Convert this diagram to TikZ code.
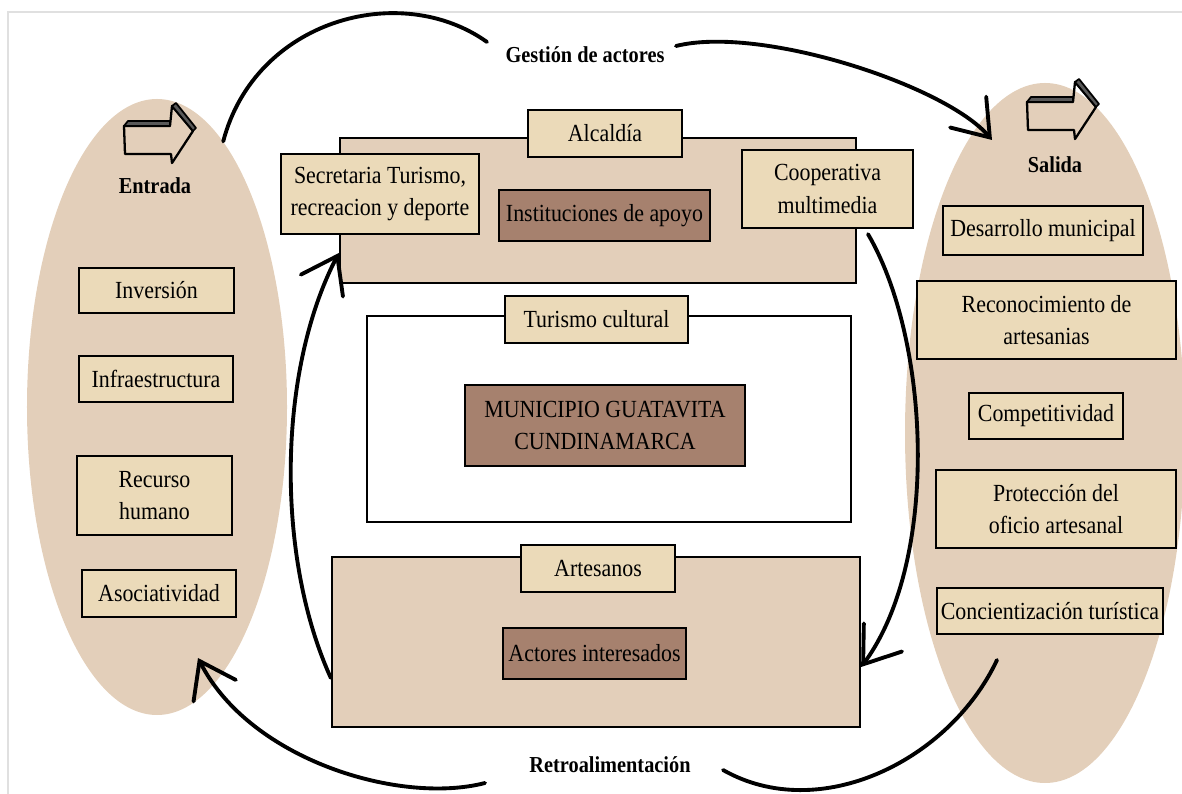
\documentclass[tikz,border=0pt]{standalone}
\usepackage{fontspec}
\setmainfont{Liberation Serif}[FakeStretch=0.89]
\usetikzlibrary{shapes.geometric,arrows.meta}

\definecolor{fondo}{HTML}{E3CFBA}
\definecolor{rotulo}{HTML}{EBDAB9}
\definecolor{oscuro}{HTML}{A6816E}

% flecha dibujada a mano (entrada / salida)
\newcommand{\flechaicono}{%
	\draw[line width=1.3pt, line join=round] (0,0) -- (46,0) -- (48,-20) -- (69,5) -- (48,37) -- (47,28) -- (1,28) -- cycle;
	\draw[line width=1pt, line join=round, fill=black!65] (0,0) -- (4,-5) -- (46,-5) -- (46,0) -- cycle;
	\draw[line width=1pt, line join=round, fill=black!65] (48,-20) -- (52,-23) -- (72,2) -- (69,5) -- cycle;
}

\begin{document}
\begin{tikzpicture}[x=0.2mm, y=-0.2mm,
	ovalo/.style={shape=ellipse, fill=fondo, draw=none, inner sep=0pt},
	caja/.style={shape=rectangle, draw=black, line width=1.3pt, fill=fondo, inner sep=0pt},
	rotulo/.style={shape=rectangle, draw=black, line width=1.3pt, fill=rotulo, inner sep=0pt, align=center,
		font=\fontsize{14}{18.5}\selectfont},
	oscura/.style={rotulo, fill=oscuro},
	titulo/.style={font=\fontsize{13}{16}\selectfont\bfseries, inner sep=0pt},
	flujo/.style={line width=2.2pt, line cap=round},
	punta/.style={flujo, -{Straight Barb[length=19pt, width=27pt, line cap=round]}}]

	\useasboundingbox (0,0) rectangle (1182,794);
	\draw[black!12, line width=0.8pt] (8,794) -- (8,12) -- (1182,12);

	% entrada y salida
	\node[ovalo, minimum width=52mm, minimum height=123.2mm] (izq) at (157, 407) {};
	\node[ovalo, minimum width=56mm, minimum height=140mm] (der) at (1045, 433) {};

	\begin{scope}[shift={(124,126)}] \flechaicono \end{scope}
	\begin{scope}[shift={(1027,102)}] \flechaicono \end{scope}

	\node[titulo] (entrada) at (155, 186) {Entrada};
	\node[titulo] (salida)  at (1055, 165) {Salida};

	\node[rotulo, minimum width=31mm,   minimum height=9mm]    (inv)    at (156.5, 290.5) {Inversión};
	\node[rotulo, minimum width=30.8mm, minimum height=9.2mm]  (infra)  at (156, 379)     {Infraestructura};
	\node[rotulo, minimum width=31mm,   minimum height=15.8mm] (rec)    at (154.5, 495.5) {Recurso\\humano};
	\node[rotulo, minimum width=30.8mm, minimum height=9.4mm]  (asoc)   at (159, 593.5)   {Asociatividad};

	\node[rotulo, minimum width=40mm,   minimum height=9.8mm]  (desa)   at (1043, 230.5)  {Desarrollo municipal};
	\node[rotulo, minimum width=51.8mm, minimum height=15.6mm] (recon)  at (1046.5, 320)  {Reconocimiento de\\artesanias};
	\node[rotulo, minimum width=30.8mm, minimum height=9.2mm]  (comp)   at (1046, 416)    {Competitividad};
	\node[rotulo, minimum width=48mm,   minimum height=15.6mm] (prot)   at (1056, 509)    {Protección del\\oficio artesanal};
	\node[rotulo, minimum width=45.2mm, minimum height=9.2mm]  (conc)   at (1050, 611)    {Concientización turística};

	% alcaldia
	\node[caja, minimum width=103.2mm, minimum height=29mm] (alcb) at (598, 210.5) {};
	\node[rotulo, minimum width=30.8mm, minimum height=9.4mm]  (alc)  at (605, 133.5) {Alcaldía};
	\node[rotulo, minimum width=39.6mm, minimum height=16mm]   (sec)  at (380, 194)   {Secretaria Turismo,\\recreacion y deporte};
	\node[oscura, minimum width=42.2mm, minimum height=10.2mm] (inst) at (604.5, 215.5) {Instituciones de apoyo};
	\node[rotulo, minimum width=34.2mm, minimum height=15.6mm] (coop) at (827.5, 189) {Cooperativa\\multimedia};

	% turismo cultural
	\node[caja, fill=white, minimum width=96.8mm, minimum height=41.2mm] (turb) at (609, 419) {};
	\node[rotulo, minimum width=36.6mm, minimum height=9.4mm] (tur) at (596.5, 319.5) {Turismo cultural};
	\node[oscura, minimum width=56mm, minimum height=16.2mm]  (mun) at (605, 425.5)   {MUNICIPIO GUATAVITA\\CUNDINAMARCA};

	% artesanos
	\node[caja, minimum width=105.6mm, minimum height=34mm] (artb) at (596, 642) {};
	\node[rotulo, minimum width=30.8mm, minimum height=9.4mm]  (art) at (598, 568.5)   {Artesanos};
	\node[oscura, minimum width=36.6mm, minimum height=10.2mm] (act) at (594.5, 653.5) {Actores interesados};

	\node[titulo] (gestion) at (585, 55)  {Gestión de actores};
	\node[titulo] (retro)   at (610, 765) {Retroalimentación};

	\coordinate (gA) at (487, 42);
	\coordinate (gB) at (676, 46);
	\coordinate (sIn) at (992, 140);
	\coordinate (rA) at (997, 660);
	\coordinate (rB) at (723, 770);
	\coordinate (rC) at (485, 783);
	\coordinate (eIn) at (198, 658);

	\draw[flujo] (izq.76) .. controls (255, 20) and (400, -20) .. (gA);
	\draw[punta] (gB) .. controls (760, 25) and (945, 85) .. (sIn);
	\draw[punta] ([shift={(8.1mm,-1mm)}]coop.south) .. controls (930, 340) and (940, 560) .. ([yshift=-5mm]artb.east);
	\draw[flujo] (rA) .. controls (950, 760) and (820, 825) .. (rB);
	\draw[punta] (rC) .. controls (400, 805) and (250, 760) .. (eIn);
	\draw[punta] ([yshift=-7.2mm]artb.west) .. controls (275, 555) and (278, 370) .. ([yshift=-8.5mm]alcb.west);
\end{tikzpicture}
\end{document}
